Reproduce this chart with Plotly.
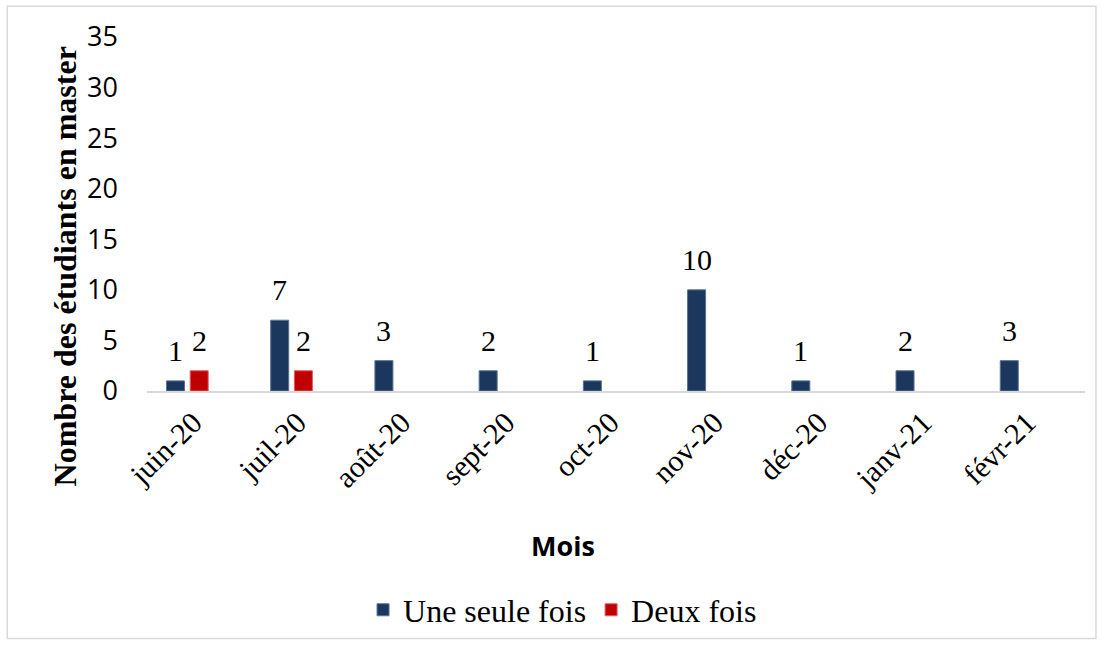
import plotly.graph_objects as go

months = ["juin-20", "juil-20", "août-20", "sept-20", "oct-20", "nov-20", "déc-20", "janv-21", "févr-21"]
une_seule_fois = [1, 7, 3, 2, 1, 10, 1, 2, 3]
deux_fois = [2, 2, None, None, None, None, None, None, None]
y_ticks = [0, 5, 10, 15, 20, 25, 30, 35]

serif = "Liberation Serif, Times New Roman, serif"
sans = "Open Sans, Liberation Sans, sans-serif"

BARGAP = 0.545
fig = go.Figure()
fig.add_trace(go.Bar(
    x=months, y=une_seule_fois, name="Une seule fois",
    marker=dict(color="#1B375E", line=dict(color="#5A7394", width=1)),
))
fig.add_trace(go.Bar(
    x=months, y=deux_fois, name="Deux fois",
    marker=dict(color="#C00000", line=dict(color="#E06060", width=1)),
))

# data labels as annotations (placed from the data values)
plot_w = 1103 - 147 - 18
slot_px = plot_w / 9 * (1 - BARGAP) / 2
annotations = []
for series, shift in ((une_seule_fois, -slot_px / 2), (deux_fois, slot_px / 2)):
    for m, v in zip(months, series):
        if v is None:
            continue
        annotations.append(dict(x=m, y=v, xref="x", yref="y", text=str(v), showarrow=False,
                                xanchor="center", yanchor="bottom", xshift=shift, yshift=12,
                                font=dict(family=serif, size=30, color="black")))

annotations += [
    dict(text="<b>Nombre des étudiants en master</b>", xref="paper", yref="paper",
         x=-0.0874, y=0.352, textangle=-90, showarrow=False,
         font=dict(family=serif, size=32, color="black"), xanchor="center", yanchor="middle"),
    dict(text="<b>Mois</b>", xref="paper", yref="paper", x=0.443, y=-0.437,
         showarrow=False, font=dict(family=sans, size=27, color="black"),
         xanchor="center", yanchor="middle"),
]

fig.update_layout(
    width=1103, height=648,
    margin=dict(l=147, r=18, t=37, b=256),
    paper_bgcolor="white", plot_bgcolor="white",
    barmode="group", bargap=BARGAP, bargroupgap=0.24,
    showlegend=True,
    legend=dict(orientation="h", x=0.443, xanchor="center", y=-0.614, yanchor="middle",
                font=dict(family=serif, size=32, color="black"), itemwidth=30,
                traceorder="normal"),
    xaxis=dict(tickangle=-45, tickfont=dict(family=serif, size=30, color="black"),
               range=[-0.387, 8.613], ticklabelshift=6,
               showline=True, linecolor="#D9D9D9", linewidth=2, ticks="", showgrid=False),
    yaxis=dict(range=[0, 35], tickvals=y_ticks, tickfont=dict(family=sans, size=27, color="black"),
               showline=False, showgrid=False, zeroline=False, ticks="", ticklabelstandoff=28),
    annotations=annotations,
    shapes=[dict(type="rect", xref="paper", yref="paper", x0=-0.149, x1=1.0117, y0=-0.699, y1=1.087,
                 line=dict(color="#D9D9D9", width=1.5), fillcolor="rgba(0,0,0,0)", layer="below")],
)

fig.write_html("out.html", config={"displayModeBar": False},
               post_script="document.body.style.margin='0';document.body.style.overflow='hidden';")
